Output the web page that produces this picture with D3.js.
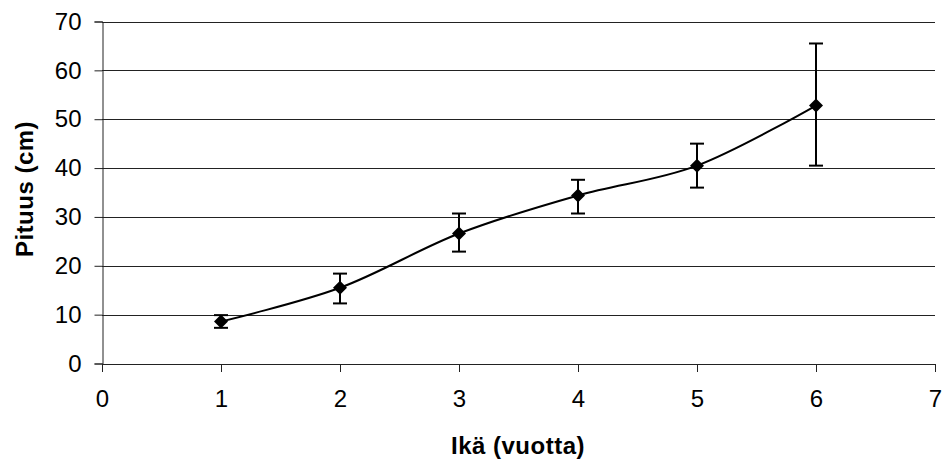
<!DOCTYPE html>
<html>
<head>
<meta charset="utf-8">
<script src="https://d3js.org/d3.v7.min.js"></script>
<style>
  body { margin: 0; background: #fff; }
  text { font-family: Arial, "Liberation Sans", sans-serif; fill: #000; }
</style>
</head>
<body>
<svg width="948" height="462"></svg>
<script>
// ages, mean length and error bar ends
var ages = [1, 2, 3, 4, 5, 6];
var means = [8.6, 15.5, 26.6, 34.4, 40.5, 52.8];
var lows = [7.3, 12.3, 22.9, 30.7, 36.0, 40.5];
var highs = [9.9, 18.4, 30.7, 37.6, 45.0, 65.5];
var xTicks = [0, 1, 2, 3, 4, 5, 6, 7];
var yTicks = [0, 10, 20, 30, 40, 50, 60, 70];

var svg = d3.select("svg");
var plotL = 102, plotR = 935, plotT = 21.5, plotB = 363.5;

var x = d3.scaleLinear().domain([0, 7]).range([plotL, plotR]);
var y = d3.scaleLinear().domain([0, 70]).range([plotB, plotT]);

// gridlines
svg.append("g").selectAll("line")
  .data(yTicks.slice(1))
  .enter().append("line")
    .attr("x1", plotL).attr("x2", plotR)
    .attr("y1", function(d) { return Math.round(y(d)) + 0.5; })
    .attr("y2", function(d) { return Math.round(y(d)) + 0.5; })
    .attr("stroke", "#222").attr("stroke-width", 1);

// axes
var yAxis = svg.append("g")
  .attr("transform", "translate(" + (plotL + 0.5) + ",0)")
  .call(d3.axisLeft(y).tickValues(yTicks).tickFormat(d3.format("d")).tickSize(8).tickPadding(13));
var xAxis = svg.append("g")
  .attr("transform", "translate(0," + (plotB + 0.5) + ")")
  .call(d3.axisBottom(x).tickValues(xTicks).tickFormat(d3.format("d")).tickSize(8).tickPadding(18));

[yAxis, xAxis].forEach(function(a) {
  a.select(".domain").attr("stroke", "#222");
  a.selectAll(".tick line").attr("stroke", "#222");
  a.selectAll("text").style("font-size", "24px").attr("fill", "#000");
});

// smoothed line
var line = d3.line()
  .x(function(d, i) { return x(ages[i]); })
  .y(function(d) { return y(d); })
  .curve(d3.curveCardinal.tension(0));

svg.append("path")
  .datum(means)
  .attr("fill", "none")
  .attr("stroke", "#000")
  .attr("stroke-width", 2)
  .attr("d", line);

// error bars
var eb = svg.append("g").attr("stroke", "#000").attr("stroke-width", 2);
ages.forEach(function(a, i) {
  var cx = x(a);
  eb.append("line").attr("x1", cx).attr("x2", cx).attr("y1", y(lows[i])).attr("y2", y(highs[i]));
  eb.append("line").attr("x1", cx - 7).attr("x2", cx + 7).attr("y1", y(lows[i])).attr("y2", y(lows[i]));
  eb.append("line").attr("x1", cx - 7).attr("x2", cx + 7).attr("y1", y(highs[i])).attr("y2", y(highs[i]));
});

// diamond markers
svg.append("g").selectAll("path")
  .data(means)
  .enter().append("path")
    .attr("transform", function(d, i) { return "translate(" + x(ages[i]) + "," + y(d) + ")"; })
    .attr("d", "M0,-7L7,0L0,7L-7,0Z")
    .attr("fill", "#000");

// axis titles
svg.append("text")
  .attr("x", 518)
  .attr("y", 454)
  .attr("text-anchor", "middle")
  .style("font-size", "24px").style("font-weight", "bold")
  .style("letter-spacing", "0.5px")
  .text("Ikä (vuotta)");

svg.append("text")
  .attr("transform", "translate(33,189) rotate(-90)")
  .attr("text-anchor", "middle")
  .style("font-size", "24px").style("font-weight", "bold")
  .style("letter-spacing", "0.5px")
  .text("Pituus (cm)");
</script>
</body>
</html>
